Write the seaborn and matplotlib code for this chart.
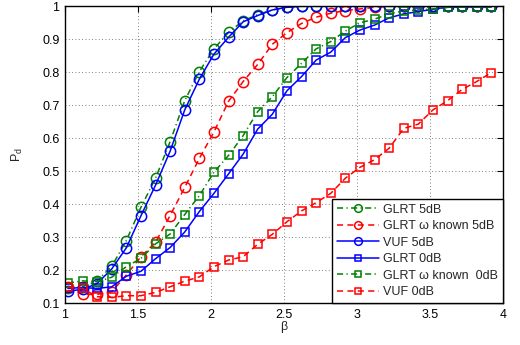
import numpy as np
import pandas as pd
import matplotlib
matplotlib.use("Agg")
import matplotlib.pyplot as plt
import seaborn as sns
from matplotlib.ticker import FuncFormatter

beta = [1.02, 1.12, 1.22, 1.32, 1.42, 1.52, 1.62, 1.72, 1.82, 1.92,
        2.02, 2.12, 2.22, 2.32, 2.42, 2.52, 2.62, 2.72, 2.82, 2.92,
        3.02, 3.12, 3.22, 3.32, 3.42, 3.52, 3.62, 3.72, 3.82, 3.92]

glrt_5db = [0.145, 0.150, 0.168, 0.212, 0.290, 0.391, 0.479, 0.590, 0.714, 0.802,
            0.871, 0.921, 0.956, 0.975, 0.989, 0.997, 1.0, 1.0, 1.0, 1.0,
            1.0, 1.0, 1.0, 1.0, 1.0, 1.0, 1.0, 1.0, 1.0, 1.0]
glrt_wk_5db = [0.150, 0.127, 0.127, 0.135, 0.186, 0.241, 0.285, 0.366, 0.451, 0.539,
               0.619, 0.712, 0.772, 0.824, 0.885, 0.920, 0.948, 0.967, 0.979, 0.987,
               0.992, 0.997, 1.0, 1.0, 1.0, 1.0, 1.0, 1.0, 1.0, 1.0]
vuf_5db = [0.137, 0.142, 0.160, 0.204, 0.268, 0.365, 0.458, 0.561, 0.686, 0.779,
           0.855, 0.906, 0.953, 0.972, 0.989, 0.997, 1.0, 1.0, 1.0, 1.0,
           1.0, 1.0, 1.0, 1.0, 1.0, 1.0, 1.0, 1.0, 1.0, 1.0]
glrt_0db = [0.145, 0.148, 0.145, 0.150, 0.182, 0.197, 0.235, 0.269, 0.316, 0.378,
            0.433, 0.492, 0.552, 0.628, 0.673, 0.744, 0.787, 0.837, 0.861, 0.905,
            0.928, 0.943, 0.965, 0.977, 0.984, 0.991, 0.997, 0.998, 0.998, 0.998]
glrt_wk_0db = [0.161, 0.168, 0.165, 0.179, 0.211, 0.236, 0.280, 0.310, 0.369, 0.426,
               0.497, 0.548, 0.608, 0.681, 0.726, 0.784, 0.827, 0.871, 0.893, 0.925,
               0.950, 0.961, 0.977, 0.986, 0.989, 0.992, 0.997, 0.998, 0.998, 0.998]
vuf_0db = [0.148, 0.145, 0.120, 0.118, 0.123, 0.123, 0.133, 0.150, 0.167, 0.180,
           0.211, 0.231, 0.241, 0.279, 0.309, 0.347, 0.380, 0.405, 0.433, 0.479,
           0.512, 0.535, 0.570, 0.630, 0.643, 0.686, 0.714, 0.748, 0.772, 0.799]

labels = ["GLRT 5dB", "GLRT \u03c9 known 5dB", "VUF 5dB",
          "GLRT 0dB", "GLRT \u03c9 known  0dB", "VUF 0dB"]
series = [glrt_5db, glrt_wk_5db, vuf_5db, glrt_0db, glrt_wk_0db, vuf_0db]
colors = ["#008000", "#ff0000", "#0000ff", "#0000ff", "#008000", "#ff0000"]
dashdot = (0, (4.0, 2.2, 0.8, 2.2))
dashed = (0, (4.0, 2.8))
styles = [dashdot, dashed, "-", "-", dashdot, dashed]
markers = ["o", "o", "o", "s", "s", "s"]
msizes = [7.4, 7.4, 7.4, 6.3, 6.3, 6.3]

sns.set_theme(style="white")
plt.rcParams["font.family"] = ["Liberation Sans", "DejaVu Sans"]
plt.rcParams["mathtext.fontset"] = "custom"
plt.rcParams["mathtext.rm"] = "Liberation Sans"
plt.rcParams["mathtext.it"] = "Liberation Sans"

fig = plt.figure(figsize=(5.2, 3.45), dpi=100)
ax = fig.add_axes([65 / 520, (345 - 303.3) / 345, 438 / 520, 297 / 345])

for y, lab, c, ls, m, ms in zip(series, labels, colors, styles, markers, msizes):
    sns.lineplot(x=beta, y=y, ax=ax, color=c, linestyle=ls, linewidth=1.1,
                 marker=m, markersize=ms, markerfacecolor="none",
                 markeredgecolor=c, markeredgewidth=1.1, label=lab,
                 sort=False, estimator=None)

ax.set_xlim(1, 4)
ax.set_ylim(0.1, 1)
ax.set_xticks([1, 1.5, 2, 2.5, 3, 3.5, 4])
ax.set_yticks([0.1, 0.2, 0.3, 0.4, 0.5, 0.6, 0.7, 0.8, 0.9, 1.0])
fmt = FuncFormatter(lambda v, p: "%g" % round(v, 2))
ax.xaxis.set_major_formatter(fmt)
ax.yaxis.set_major_formatter(fmt)
ax.tick_params(direction="in", length=4, width=0.8, top=True, right=True,
               labelsize=9, colors="black", pad=4)
ax.grid(True, linestyle=(0, (1, 3)), color="#555555", linewidth=0.6)
for s in ax.spines.values():
    s.set_color("black")
    s.set_linewidth(1.0)

ax.set_xlabel("\u03b2", fontsize=9, labelpad=0)
ax.set_ylabel("P$_{\\rm d}$", fontsize=9, labelpad=12)

leg = ax.legend(loc="lower right", fontsize=9, frameon=True, fancybox=False,
                borderaxespad=0, handlelength=3.4, labelspacing=0.36,
                handletextpad=0.3, borderpad=0.4, markerscale=0.75)
leg.get_frame().set_edgecolor("black")
leg.get_frame().set_linewidth(1.0)
leg.get_frame().set_alpha(1)

fig.savefig("out.png", dpi=100)
